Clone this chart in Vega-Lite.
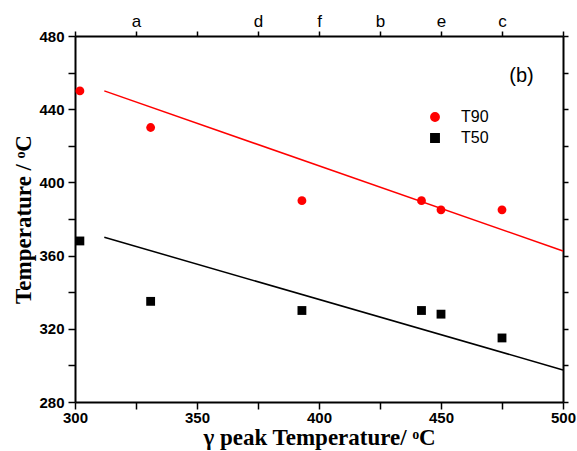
{
  "$schema": "https://vega.github.io/schema/vega-lite/v6.json",
  "width": 488,
  "height": 366,
  "autosize": "none",
  "padding": {"left": 75, "top": 36, "right": 14, "bottom": 49},
  "background": "white",
  "config": {
    "view": {"stroke": null},
    "axis": {
      "grid": false,
      "domainColor": "black",
      "domainWidth": 2,
      "tickColor": "black",
      "tickWidth": 1.5,
      "tickSize": 7,
      "labelFont": "Liberation Sans",
      "labelFontWeight": "bold",
      "labelFontSize": 15,
      "labelColor": "black",
      "labelFlush": false,
      "labelOverlap": false,
      "labelBound": false,
      "titleFont": "Liberation Serif",
      "titleFontWeight": "bold",
      "titleFontSize": 23,
      "titleColor": "black"
    }
  },
  "datasets": {
    "points": [
      {"gamma": 302, "temp": 450, "series": "T90"},
      {"gamma": 331, "temp": 430, "series": "T90"},
      {"gamma": 393, "temp": 390, "series": "T90"},
      {"gamma": 442, "temp": 390, "series": "T90"},
      {"gamma": 450, "temp": 385, "series": "T90"},
      {"gamma": 475, "temp": 385, "series": "T90"},
      {"gamma": 302, "temp": 368, "series": "T50"},
      {"gamma": 331, "temp": 335, "series": "T50"},
      {"gamma": 393, "temp": 330, "series": "T50"},
      {"gamma": 442, "temp": 330, "series": "T50"},
      {"gamma": 450, "temp": 328, "series": "T50"},
      {"gamma": 475, "temp": 315, "series": "T50"}
    ],
    "fits": [
      {"gamma": 312, "temp": 450, "series": "T90"},
      {"gamma": 500, "temp": 362.5, "series": "T90"},
      {"gamma": 312, "temp": 370, "series": "T50"},
      {"gamma": 500, "temp": 297.5, "series": "T50"}
    ],
    "labels": [
      {"gamma": 483, "temp": 458, "text": "(b)"}
    ]
  },
  "layer": [
    {
      "data": {"name": "points"},
      "mark": {"type": "point", "filled": true, "opacity": 1, "size": 78},
      "encoding": {
        "x": {
          "field": "gamma", "type": "quantitative",
          "scale": {"domain": [300, 500], "nice": false, "zero": false},
          "axis": {
            "orient": "bottom",
            "values": [300, 325, 350, 375, 400, 425, 450, 475, 500],
            "labelExpr": "datum.value % 50 == 0 ? datum.label : ''",
            "labelPadding": 1,
            "title": "γ peak Temperature/ ᵒC",
            "titlePadding": 1
          }
        },
        "y": {
          "field": "temp", "type": "quantitative",
          "scale": {"domain": [280, 480], "nice": false, "zero": false},
          "axis": {
            "orient": "left",
            "values": [280, 300, 320, 340, 360, 380, 400, 420, 440, 460, 480],
            "labelExpr": "datum.value % 40 == 0 ? datum.label : ''",
            "labelPadding": 4,
            "title": "Temperature / ᵒC",
            "titlePadding": 3
          }
        },
        "color": {
          "field": "series", "type": "nominal",
          "scale": {"domain": ["T90", "T50"], "range": ["#ff0000", "#000000"]},
          "legend": {
            "orient": "none",
            "legendX": 352,
            "legendY": 73,
            "title": null,
            "padding": 0,
            "labelFont": "Liberation Sans",
            "labelFontSize": 16,
            "labelColor": "black",
            "labelOffset": 18,
            "rowPadding": 5,
            "symbolSize": 70
          }
        },
        "shape": {
          "field": "series", "type": "nominal",
          "scale": {"domain": ["T90", "T50"], "range": ["circle", "square"]}
        }
      }
    },
    {
      "data": {"name": "fits"},
      "mark": {"type": "line", "strokeWidth": 1.5},
      "encoding": {
        "x": {
          "field": "gamma", "type": "quantitative",
          "scale": {"domain": [300, 500], "nice": false, "zero": false},
          "axis": {
            "orient": "top",
            "values": [300, 325, 350, 375, 400, 425, 450, 475, 500],
            "labelExpr": "datum.value == 325 ? 'a' : datum.value == 375 ? 'd' : datum.value == 400 ? 'f' : datum.value == 425 ? 'b' : datum.value == 450 ? 'e' : datum.value == 475 ? 'c' : ''",
            "labelFontWeight": "normal",
            "labelFontSize": 17,
            "labelPadding": 1,
            "tickSize": 5,
            "title": null
          }
        },
        "y": {
          "field": "temp", "type": "quantitative",
          "scale": {"domain": [280, 480], "nice": false, "zero": false},
          "axis": {
            "orient": "right",
            "values": [280, 300, 320, 340, 360, 380, 400, 420, 440, 460, 480],
            "labels": false,
            "tickSize": 5,
            "title": null
          }
        },
        "detail": {"field": "series", "type": "nominal"},
        "stroke": {
          "field": "series", "type": "nominal",
          "scale": {"domain": ["T90", "T50"], "range": ["#ff0000", "#000000"]},
          "legend": null
        }
      }
    },
    {
      "data": {"name": "labels"},
      "mark": {"type": "text", "font": "Liberation Sans", "fontSize": 20, "align": "center", "baseline": "middle", "color": "black"},
      "encoding": {
        "x": {"field": "gamma", "type": "quantitative", "scale": {"domain": [300, 500], "nice": false, "zero": false}, "axis": null},
        "y": {"field": "temp", "type": "quantitative", "scale": {"domain": [280, 480], "nice": false, "zero": false}, "axis": null},
        "text": {"field": "text"}
      }
    }
  ],
  "resolve": {"axis": {"x": "independent", "y": "independent"}}
}
